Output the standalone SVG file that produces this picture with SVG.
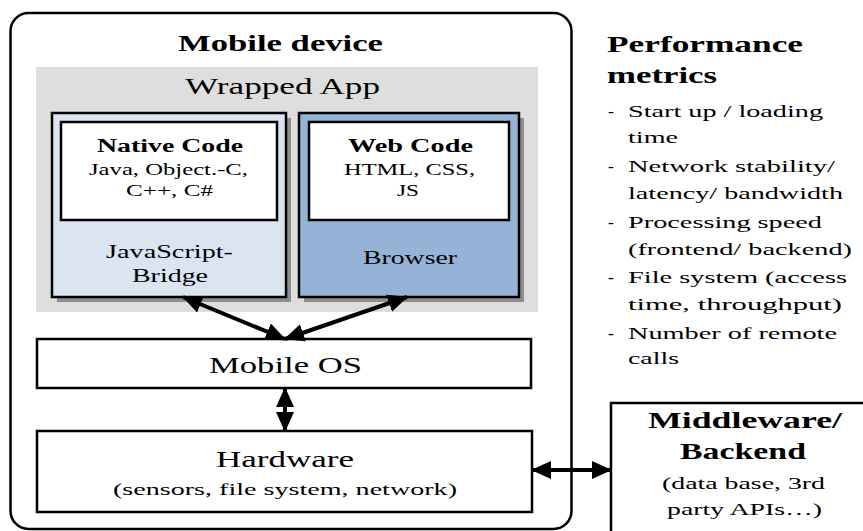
<svg xmlns="http://www.w3.org/2000/svg" width="863" height="531" viewBox="0 0 863 531">
<style>
text{font-family:"Liberation Serif","Times New Roman",serif;fill:#000}
.b{font-weight:bold}
.box{stroke:#000;stroke-width:2.5}
.arr{stroke:#000;stroke-width:4;fill:none;marker-start:url(#ah);marker-end:url(#ah)}
</style>
<defs>
<marker id="ah" markerUnits="userSpaceOnUse" markerWidth="20" markerHeight="20" viewBox="0 0 20 20" refX="19" refY="10" orient="auto-start-reverse">
<path d="M0,1 L20,10 L0,19 z" fill="#000"/>
</marker>
</defs>
<g id="mobile-device">
<rect class="box" x="10.5" y="13" width="561" height="516" rx="18" fill="#fff"/>
<text class="b" x="178" y="51" font-size="24" textLength="205" lengthAdjust="spacingAndGlyphs">Mobile device</text>
</g>
<g id="wrapped-app">
<rect x="36" y="67" width="502" height="245" fill="#dedede"/>
<text x="185" y="94" font-size="23" textLength="195" lengthAdjust="spacingAndGlyphs">Wrapped App</text>
</g>
<g id="native">
<rect x="57" y="118" width="234" height="184" fill="#8e8e8e"/>
<rect class="box" x="52" y="113" width="234" height="184" fill="#dbe5f1"/>
<rect class="box" x="61" y="122" width="216" height="98" fill="#fff"/>
<text class="b" x="97" y="152" font-size="18.5" textLength="146" lengthAdjust="spacingAndGlyphs">Native Code</text>
<text x="89" y="175" font-size="16.5" textLength="159" lengthAdjust="spacingAndGlyphs">Java, Object.-C,</text>
<text x="126" y="196" font-size="16.5" textLength="87" lengthAdjust="spacingAndGlyphs">C++, C#</text>
<text x="106" y="258" font-size="19.5" textLength="127" lengthAdjust="spacingAndGlyphs">JavaScript-</text>
<text x="132" y="282" font-size="19.5" textLength="76" lengthAdjust="spacingAndGlyphs">Bridge</text>
</g>
<g id="web">
<rect x="304" y="118" width="220" height="184" fill="#8e8e8e"/>
<rect class="box" x="299" y="113" width="220" height="184" fill="#95b3d7"/>
<rect class="box" x="309" y="122" width="200" height="98" fill="#fff"/>
<text class="b" x="348" y="152" font-size="18.5" textLength="125" lengthAdjust="spacingAndGlyphs">Web Code</text>
<text x="344" y="175" font-size="16.5" textLength="131" lengthAdjust="spacingAndGlyphs">HTML, CSS,</text>
<text x="397" y="196" font-size="16.5" textLength="22" lengthAdjust="spacingAndGlyphs">JS</text>
<text x="363" y="264" font-size="19.5" textLength="94" lengthAdjust="spacingAndGlyphs">Browser</text>
</g>
<g id="mobile-os">
<rect class="box" x="37" y="339" width="494" height="49" fill="#fff"/>
<text x="209" y="373" font-size="23" textLength="153" lengthAdjust="spacingAndGlyphs">Mobile OS</text>
</g>
<g id="hardware">
<rect class="box" x="37" y="431" width="495" height="81" fill="#fff"/>
<text x="216" y="467" font-size="23" textLength="138" lengthAdjust="spacingAndGlyphs">Hardware</text>
<text x="113" y="495" font-size="17.5" textLength="344" lengthAdjust="spacingAndGlyphs">(sensors, file system, network)</text>
</g>
<g id="middleware">
<rect class="box" x="611" y="403" width="270" height="150" fill="#fff"/>
<text class="b" x="648" y="428" font-size="23" textLength="194" lengthAdjust="spacingAndGlyphs">Middleware/</text>
<text class="b" x="680" y="459" font-size="23" textLength="126" lengthAdjust="spacingAndGlyphs">Backend</text>
<text x="662" y="489" font-size="17.5" textLength="163" lengthAdjust="spacingAndGlyphs">(data base, 3rd</text>
<text x="667" y="515" font-size="17.5" textLength="155" lengthAdjust="spacingAndGlyphs">party APIs…)</text>
</g>
<g id="metrics">
<text class="b" x="607" y="52" font-size="24" textLength="196" lengthAdjust="spacingAndGlyphs">Performance</text>
<text class="b" x="607" y="83" font-size="24" textLength="110" lengthAdjust="spacingAndGlyphs">metrics</text>
<g font-size="17.5">
<text x="608" y="117">-</text>
<text x="628" y="117" textLength="195" lengthAdjust="spacingAndGlyphs">Start up / loading</text>
<text x="628" y="143" textLength="50" lengthAdjust="spacingAndGlyphs">time</text>
<text x="608" y="172">-</text>
<text x="628" y="172" textLength="207" lengthAdjust="spacingAndGlyphs">Network stability/</text>
<text x="628" y="199" textLength="215" lengthAdjust="spacingAndGlyphs">latency/ bandwidth</text>
<text x="608" y="228">-</text>
<text x="628" y="228" textLength="194" lengthAdjust="spacingAndGlyphs">Processing speed</text>
<text x="628" y="255" textLength="224" lengthAdjust="spacingAndGlyphs">(frontend/ backend)</text>
<text x="608" y="283">-</text>
<text x="628" y="283" textLength="219" lengthAdjust="spacingAndGlyphs">File system (access</text>
<text x="628" y="310" textLength="214" lengthAdjust="spacingAndGlyphs">time, throughput)</text>
<text x="608" y="339">-</text>
<text x="628" y="339" textLength="209" lengthAdjust="spacingAndGlyphs">Number of remote</text>
<text x="628" y="364" textLength="51" lengthAdjust="spacingAndGlyphs">calls</text>
</g>
</g>
<g id="connectors">
<line class="arr" x1="183" y1="297" x2="285" y2="339"/>
<line class="arr" x1="407" y1="297" x2="285" y2="339"/>
<line class="arr" x1="285" y1="388" x2="285" y2="431"/>
<line class="arr" x1="532" y1="470" x2="611" y2="470"/>
</g>
</svg>
